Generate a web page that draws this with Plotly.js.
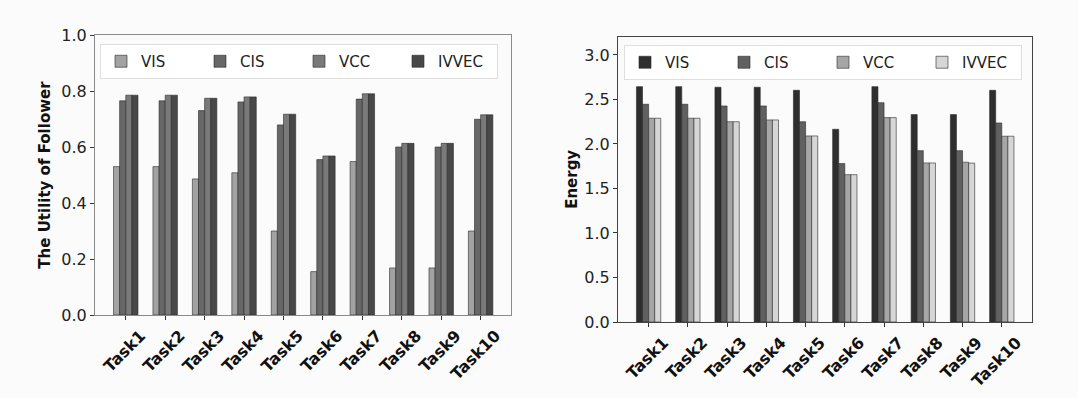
<!DOCTYPE html>
<html>
<head>
<meta charset="utf-8">
<script src="https://cdn.plot.ly/plotly-3.0.1.min.js"></script>
<style>
html,body{margin:0;padding:0;background:#fbfbfb;}
#chart{width:1078px;height:398px;}
</style>
</head>
<body>
<div id="chart"></div>
<script>
const tasks = ["Task1","Task2","Task3","Task4","Task5","Task6","Task7","Task8","Task9","Task10"];
const seriesNames = ["VIS","CIS","VCC","IVVEC"];

// Left: The Utility of Follower
const utilVIS   = [0.530,0.530,0.486,0.508,0.300,0.155,0.548,0.168,0.168,0.300];
const utilCIS   = [0.765,0.765,0.730,0.761,0.679,0.555,0.771,0.600,0.600,0.699];
const utilVCC   = [0.785,0.785,0.774,0.779,0.717,0.568,0.790,0.613,0.613,0.715];
const utilIVVEC = [0.785,0.785,0.774,0.779,0.717,0.568,0.790,0.613,0.613,0.715];

// Right: Energy
const energyVIS   = [2.644,2.644,2.637,2.637,2.603,2.165,2.644,2.330,2.330,2.603];
const energyCIS   = [2.446,2.446,2.427,2.427,2.250,1.780,2.464,1.925,1.925,2.236];
const energyVCC   = [2.289,2.289,2.250,2.270,2.090,1.655,2.296,1.787,1.795,2.087];
const energyIVVEC = [2.289,2.289,2.250,2.270,2.090,1.655,2.296,1.787,1.785,2.087];

const leftColors  = ["#a2a2a2","#676767","#7a7a7a","#484848"];
const rightColors = ["#2e2e2e","#606060","#a6a6a6","#d6d6d6"];

const leftData  = [utilVIS, utilCIS, utilVCC, utilIVVEC];
const rightData = [energyVIS, energyCIS, energyVCC, energyIVVEC];

const traces = [];
seriesNames.forEach((n,i)=>{
  traces.push({type:"bar", name:n, x:tasks, y:leftData[i], xaxis:"x", yaxis:"y",
    legend:"legend", offsetgroup:"L"+i,
    marker:{color:leftColors[i], line:{color:"#2a2a2a", width:0.6}}});
});
seriesNames.forEach((n,i)=>{
  traces.push({type:"bar", name:n, x:tasks, y:rightData[i], xaxis:"x2", yaxis:"y2",
    legend:"legend2", offsetgroup:"R"+i,
    marker:{color:rightColors[i], line:{color:"#2a2a2a", width:0.6}}});
});

const W=1078, H=398;
const px = v => v/W, py = v => (H - v)/H;
const fontFam = "DejaVu Sans, sans-serif";

const xcommon = {
  type:"category", range:[-0.78, 9.77], ticks:"outside", ticklen:4, tickcolor:"#333",
  tickangle:-45, tickfont:{family:fontFam, size:16, color:"#111", weight:"bold"},
  ticklabelshift:15,
  showgrid:false, zeroline:false, showline:true, mirror:true, automargin:false
};
const ycommon = {
  ticks:"outside", ticklen:4, tickcolor:"#333",
  tickfont:{family:fontFam, size:16, color:"#222"},
  showgrid:false, zeroline:false, showline:true, mirror:true, automargin:false
};

const layout = {
  width:W, height:H,
  margin:{l:0,r:0,t:0,b:0,pad:0,autoexpand:false},
  paper_bgcolor:"#fbfbfb", plot_bgcolor:"#fbfbfb",
  barmode:"group", bargap:0.38, bargroupgap:0,
  font:{family:fontFam, color:"#222"},
  showlegend:true,
  xaxis:Object.assign({}, xcommon, {domain:[px(95), px(511)], anchor:"y", linecolor:"#8a8a8a"}),
  yaxis:Object.assign({}, ycommon, {domain:[py(315), py(35)], anchor:"x", range:[0,1.0],
    dtick:0.2, tickformat:".1f", linecolor:"#8a8a8a",
    title:{text:"The Utility of Follower", font:{family:fontFam, size:15, weight:"bold", color:"#111"}, standoff:7}}),
  xaxis2:Object.assign({}, xcommon, {domain:[px(618), px(1032)], anchor:"y2", linecolor:"#444"}),
  yaxis2:Object.assign({}, ycommon, {domain:[py(322), py(36.7)], anchor:"x2", range:[0,3.205],
    dtick:0.5, tickformat:".1f", linecolor:"#444",
    title:{text:"Energy", font:{family:fontFam, size:15, weight:"bold", color:"#111"}, standoff:3}}),
  legend:{orientation:"h", x:px(100), y:py(44), xanchor:"left", yanchor:"top",
    entrywidth:54, entrywidthmode:"pixels",
    bgcolor:"rgba(255,255,255,0.85)", bordercolor:"#dedede", borderwidth:1,
    font:{family:fontFam, size:15, color:"#222"}, itemwidth:30, traceorder:"normal"},
  legend2:{orientation:"h", x:px(624), y:py(45), xanchor:"left", yanchor:"top",
    entrywidth:54, entrywidthmode:"pixels",
    bgcolor:"rgba(255,255,255,0.85)", bordercolor:"#dedede", borderwidth:1,
    font:{family:fontFam, size:15, color:"#222"}, itemwidth:30, traceorder:"normal"}
};

Plotly.newPlot("chart", traces, layout, {staticPlot:true, displayModeBar:false});
</script>
</body>
</html>
